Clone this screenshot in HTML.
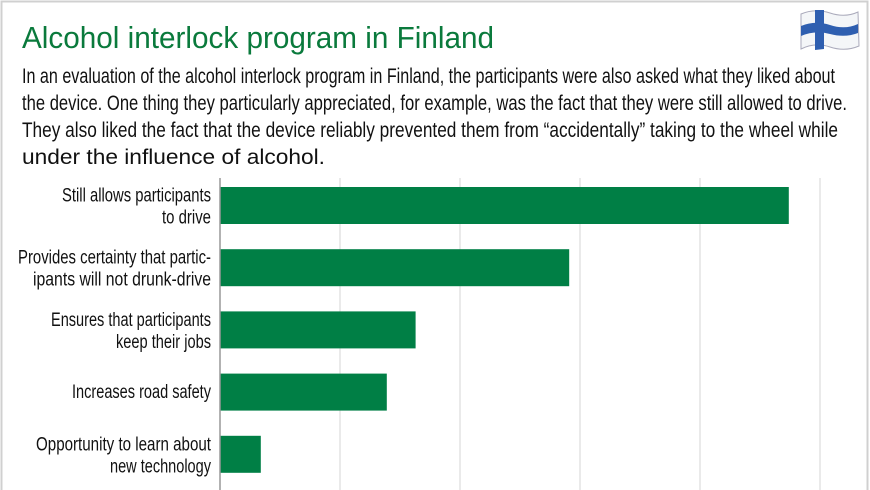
<!DOCTYPE html>
<html><head><meta charset="utf-8"><style>
body{margin:0;background:#fff}
svg{display:block;font-family:"Liberation Sans",sans-serif}
</style></head><body>
<svg width="870" height="490" viewBox="0 0 870 490">
<rect x="1.5" y="1.5" width="866" height="492" fill="#fff" stroke="#d0d0d0" stroke-width="2"/>
<text x="22" y="48" font-size="31" fill="#0a7a3c" textLength="472" lengthAdjust="spacingAndGlyphs">Alcohol interlock program in Finland</text>
<g>
<path d="M801 14 Q815 8 830 13 T858 12 L859 46 Q845 52 830 47 T801 49 Z" fill="#f4f6f8" stroke="#aab" stroke-width="1"/>
<path d="M801 26 Q815 20 830 25 T858 24 L858 33 Q845 38 830 34 T801 36 Z" fill="#2f5fb0"/>
<path d="M815 10 L824 10 L824 49 L815 50 Z" fill="#2f5fb0"/>
</g>
<g font-size="21" fill="#111">
<text x="22" y="83" textLength="813" lengthAdjust="spacingAndGlyphs">In an evaluation of the alcohol interlock program in Finland, the participants were also asked what they liked about</text>
<text x="22" y="110" textLength="825" lengthAdjust="spacingAndGlyphs">the device. One thing they particularly appreciated, for example, was the fact that they were still allowed to drive.</text>
<text x="22" y="137" textLength="816" lengthAdjust="spacingAndGlyphs">They also liked the fact that the device reliably prevented them from “accidentally” taking to the wheel while</text>
<text x="22" y="164" textLength="303" lengthAdjust="spacingAndGlyphs">under the influence of alcohol.</text>
</g>
<g id="grid"></g><g id="bars"></g><g id="labels" font-size="19" fill="#111"></g>
<line x1="220" y1="178" x2="220" y2="490" stroke="#999" stroke-width="1.5"/>
</svg>
<script>
const categories=[["Still allows participants","to drive"],["Provides certainty that partic-","ipants will not drunk-drive"],["Ensures that participants","keep their jobs"],["Increases road safety"],["Opportunity to learn about","new technology"]];
const values=[47.4,29.1,16.3,13.9,3.4];
const gridTicks=[10,20,30,40,50];
const labelWidths=[[149,49],[193,178],[160,95],[139],[175,101]];
const NS="http://www.w3.org/2000/svg";
const x=v=>220+v*12;
const yTop=i=>187+i*62.2;
function mk(t,a,p){const e=document.createElementNS(NS,t);for(const k in a)e.setAttribute(k,a[k]);p.appendChild(e);return e;}
const g=document.getElementById('grid'),b=document.getElementById('bars'),l=document.getElementById('labels');
gridTicks.forEach(t=>{const e=mk('line',{x1:x(t),x2:x(t),y1:178,y2:490,stroke:'#d6d6d6','stroke-width':1},g);

});
values.forEach((v,i)=>{const r=mk('rect',{x:220,y:yTop(i),width:x(v)-220,height:37,fill:'#007f45'},b);


const lines=categories[i];const cy=yTop(i)+18.5;
lines.forEach((s,j)=>{const by=lines.length==1?cy+6:cy-4+j*22;
const tx=mk('text',{x:211,y:by,'text-anchor':'end',textLength:labelWidths[i][j],lengthAdjust:'spacingAndGlyphs'},l);tx.textContent=s;

});});
</script>
</body></html>
